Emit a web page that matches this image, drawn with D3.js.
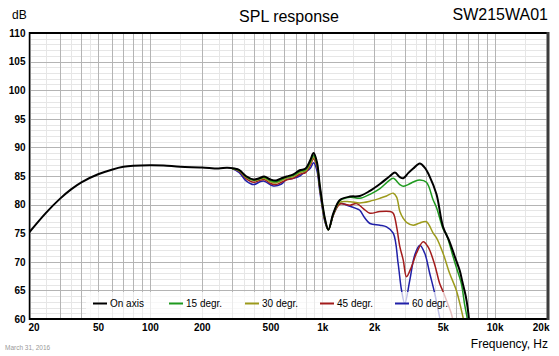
<!DOCTYPE html>
<html><head><meta charset="utf-8">
<script src="https://cdn.jsdelivr.net/npm/d3@7"></script>
<style>
html,body{margin:0;padding:0;background:#fff;}
svg{display:block;font-family:"Liberation Sans",Arial,sans-serif;}
</style></head>
<body>
<svg id="chart" width="559" height="356"></svg>
<script>
// ---- data ----
const xTickValues = [20, 50, 100, 200, 500, 1000, 2000, 5000, 10000, 20000];
const xTickLabels = ["20", "50", "100", "200", "500", "1k", "2k", "5k", "10k", "20k"];
const yTickValues = [60, 65, 70, 75, 80, 85, 90, 95, 100, 105, 110];

const seriesNames = ["On axis", "15 degr.", "30 degr.", "45 degr.", "60 degr."];
const seriesColors = ["#000000", "#1f9a1f", "#9c9a1c", "#a31c1c", "#2020a8"];

const freqOnAxis = [20,25,30,35,40,50,60,70,80,100,120,150,200,250,280,310,330,360,400,430,460,500,540,580,620,680,740,800,850,890,930,970,1040,1085,1160,1265,1450,1650,1890,2160,2470,2640,2820,2950,3150,3370,3680,3940,4200,4600,5020,5480,5860,6270,6500,6800,7000,7200];
const splOnAxis  = [75.2,78.6,81.0,82.7,83.9,85.3,86.1,86.6,86.8,86.9,86.85,86.6,86.5,86.3,86.45,86.3,86.05,85.0,84.4,84.6,84.9,84.4,84.2,84.6,84.9,85.3,86.0,86.3,87.7,89.0,87.5,83.1,77.3,75.6,78.5,80.8,81.4,81.5,82.4,83.6,85.0,85.6,84.8,84.6,85.5,86.3,87.2,86.4,84.9,81.8,76.1,73.5,71.0,68.5,66.5,64.0,61.6,58.0];

const freq15 = [300,330,360,400,430,460,500,540,580,620,680,740,800,850,890,930,970,1040,1085,1160,1265,1450,1650,1890,2160,2400,2580,2820,2950,3150,3400,3680,4020,4400,4600,5020,5250,5740,6000,6410,6700,6900,7100];
const spl15  = [86.3,86.0,84.9,84.3,84.5,84.8,84.2,84.0,84.4,84.8,85.1,85.8,86.1,87.4,88.6,87.2,82.9,77.2,75.6,78.4,80.7,81.3,81.1,81.8,82.8,84.0,84.6,83.5,83.2,83.5,84.0,84.3,83.9,80.8,79.5,75.8,74.8,70.9,69.0,66.2,62.5,60.5,58.0];

const freq30 = [300,330,360,400,430,460,500,540,580,620,680,740,800,850,890,930,970,1040,1085,1160,1265,1450,1650,1890,2160,2360,2580,2700,2820,2950,3080,3370,3680,4020,4400,4600,5020,5480,6000,6410,6700];
const spl30  = [86.3,85.9,84.8,84.2,84.4,84.6,84.0,83.8,84.2,84.6,84.9,85.6,85.9,87.1,88.3,87.0,82.7,77.1,75.6,78.3,80.4,80.5,80.3,80.6,81.1,81.5,82.0,81.3,78.8,77.6,76.9,76.4,76.8,77.0,75.0,74.2,71.5,68.0,65.0,61.6,59.0];

const freq45 = [300,330,360,400,430,460,500,540,580,620,680,740,800,850,890,930,970,1040,1085,1160,1265,1450,1580,1730,1890,2160,2470,2580,2700,2820,2950,3080,3290,3520,3850,4110,4490,4800,5020,5370,5600,5750];
const spl45  = [86.3,85.8,84.6,83.9,84.2,84.4,83.7,83.5,83.9,84.3,84.6,85.3,85.6,86.8,88.0,86.7,82.5,77.0,75.6,78.2,80.1,79.9,80.2,79.3,78.5,78.8,78.8,78.5,76.1,72.6,70.3,67.4,69.1,71.5,73.5,72.6,69.5,66.2,64.8,62.5,61.0,59.5];

const freq60 = [300,330,360,400,435,460,520,580,620,680,740,776,850,890,930,970,1040,1085,1160,1265,1390,1580,1650,1770,1890,2160,2360,2580,2755,2880,3010,3220,3440,3680,3930,4200,4490,4700,4900];
const spl60  = [86.3,85.6,84.2,83.5,84.0,84.1,83.25,83.6,84.4,84.6,85.0,85.5,86.3,87.3,86.0,82.0,76.8,75.6,78.2,80.2,79.9,79.3,79.0,77.6,76.7,76.4,76.1,75.0,69.7,65.1,62.7,66.8,71.2,72.9,71.5,68.0,64.5,61.6,59.0];

const seriesFreqs = [freqOnAxis, freq15, freq30, freq45, freq60];
const seriesSpl = [splOnAxis, spl15, spl30, spl45, spl60];

// ---- layout ----
const L = 29.5, R = 546.5, T = 33, B = 319;
const svg = d3.select("#chart");
const x = d3.scaleLog().domain([20, 20000]).range([L, R]);
const y = d3.scaleLinear().domain([60, 110]).range([B, T]);

// grid
const grid = svg.append("g");
const minorV = [], majorV = [];
[10, 100, 1000, 10000].forEach(dec => {
  for (let m = 1; m <= 9; m++) {
    const f = m * dec;
    if (f >= 20 && f <= 20000) majorV.push(f);
    [1.5, 2.5, 3.5, 4.5].forEach(h => { const g = h * dec; if (g > 20 && g < 20000) minorV.push(g); });
  }
});
const minorH = d3.range(61, 110, 1).filter(v => v % 5 !== 0);
grid.selectAll(".mh").data(minorH).join("line")
  .attr("x1", L).attr("x2", R).attr("y1", d => Math.round(y(d)) + 0.5).attr("y2", d => Math.round(y(d)) + 0.5)
  .attr("stroke", "#e6e6e6").attr("stroke-width", 1);
grid.selectAll(".mv").data(minorV).join("line")
  .attr("y1", T).attr("y2", B).attr("x1", d => Math.round(x(d)) + 0.5).attr("x2", d => Math.round(x(d)) + 0.5)
  .attr("stroke", "#e6e6e6").attr("stroke-width", 1);
grid.selectAll(".Mh").data(yTickValues).join("line")
  .attr("x1", L).attr("x2", R).attr("y1", d => Math.round(y(d)) + 0.5).attr("y2", d => Math.round(y(d)) + 0.5)
  .attr("stroke", "#b4b4b4").attr("stroke-width", 1);
grid.selectAll(".Mv").data(majorV).join("line")
  .attr("y1", T).attr("y2", B).attr("x1", d => Math.round(x(d)) + 0.5).attr("x2", d => Math.round(x(d)) + 0.5)
  .attr("stroke", "#b4b4b4").attr("stroke-width", 1);

// clip
svg.append("clipPath").attr("id", "clip").append("rect")
  .attr("x", L).attr("y", T).attr("width", R - L).attr("height", B - T);

const line = d3.line().x(d => x(d[0])).y(d => y(d[1])).curve(d3.curveCatmullRom.alpha(0.5));
const curves = svg.append("g").attr("clip-path", "url(#clip)");
[4, 3, 2, 1, 0].forEach(i => {
  const pts = seriesFreqs[i].map((f, k) => [f, seriesSpl[i][k]]);
  curves.append("path").datum(pts).attr("d", line)
    .attr("fill", "none").attr("stroke", seriesColors[i])
    .attr("stroke-width", i === 0 ? 2 : 1.5).attr("stroke-linejoin", "round");
});

// legend (semi-transparent box)
const lg = svg.append("g");
lg.append("rect").attr("x", 86).attr("y", 292).attr("width", 368).attr("height", B - 292)
  .attr("fill", "#fff").attr("opacity", 0.72);
const legX = [93, 169, 245, 320, 395];
seriesNames.forEach((n, i) => {
  lg.append("line").attr("x1", legX[i]).attr("x2", legX[i] + 14).attr("y1", 303.5).attr("y2", 303.5)
    .attr("stroke", seriesColors[i]).attr("stroke-width", 2);
  lg.append("text").attr("x", legX[i] + 17).attr("y", 307).attr("font-size", 10).attr("fill", "#000").text(n);
});

// frame
svg.append("line").attr("x1", L).attr("x2", R + 1).attr("y1", T).attr("y2", T).attr("stroke", "#000").attr("stroke-width", 2);
svg.append("line").attr("x1", L).attr("x2", R + 1).attr("y1", B).attr("y2", B).attr("stroke", "#000").attr("stroke-width", 2);
svg.append("line").attr("x1", L).attr("x2", L).attr("y1", T - 1).attr("y2", B + 1).attr("stroke", "#000").attr("stroke-width", 1.5);
svg.append("line").attr("x1", R + 1.5).attr("x2", R + 1.5).attr("y1", T - 1).attr("y2", B + 1).attr("stroke", "#3c3c3c").attr("stroke-width", 3);

// axes
const xAxis = d3.axisBottom(x).tickValues(xTickValues).tickSize(0).tickPadding(0)
  .tickFormat((d, i) => xTickLabels[i]);
const gx = svg.append("g").attr("transform", `translate(0,${B + 12})`).call(xAxis);
gx.select(".domain").remove();
gx.selectAll("text").attr("font-size", 10).attr("font-family", "Liberation Sans, Arial, sans-serif")
  .attr("fill", "#000").attr("font-weight", "bold").attr("dy", "0");
gx.selectAll(".tick").filter(d => d === 20).select("text").attr("text-anchor", "start").attr("x", -1.5);
gx.selectAll(".tick").filter(d => d === 20000).select("text").attr("text-anchor", "end").attr("x", 2.5);

const yAxis = d3.axisLeft(y).tickValues(yTickValues).tickSize(0).tickPadding(4);
const gy = svg.append("g").attr("transform", `translate(${L},0)`).call(yAxis);
gy.select(".domain").remove();
gy.selectAll("text").attr("font-size", 10).attr("font-family", "Liberation Sans, Arial, sans-serif")
  .attr("fill", "#000").attr("font-weight", "bold");

// titles
svg.append("text").attr("x", 12).attr("y", 19).attr("font-size", 12).text("dB");
svg.append("text").attr("x", 289).attr("y", 22).attr("text-anchor", "middle").attr("font-size", 16).text("SPL response");
svg.append("text").attr("x", 548).attr("y", 20).attr("text-anchor", "end").attr("font-size", 16).text("SW215WA01");
svg.append("text").attr("x", 548).attr("y", 348).attr("text-anchor", "end").attr("font-size", 12).text("Frequency, Hz");
svg.append("text").attr("x", 5).attr("y", 350).attr("font-size", 6.5).attr("fill", "#999").text("March 31, 2016");
</script>
</body></html>
